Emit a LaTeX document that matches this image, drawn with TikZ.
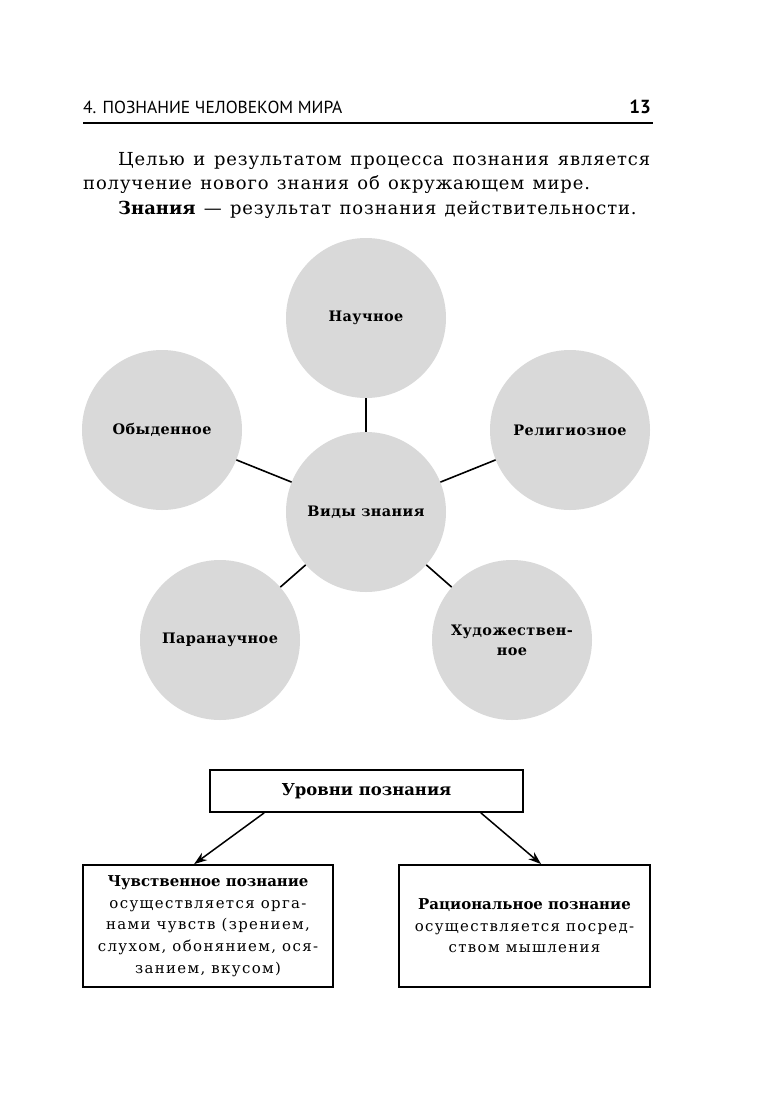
\documentclass[tikz,border=0pt]{standalone}
\usepackage{fontspec}
\setmainfont{DejaVu Serif}
\newfontfamily\hdrfont{PT Sans}
\newfontfamily\bodyfont{DejaVu Serif}[LetterSpace=5]
\newfontfamily\boxfont{DejaVu Serif}[LetterSpace=9]
\newfontfamily\kindfont{DejaVu Serif}[LetterSpace=3]
\newcommand\widewords{\spaceskip=8.3bp\relax}
\usetikzlibrary{positioning,arrows.meta}
\definecolor{circgray}{RGB}{217,217,217}

\begin{document}
\begin{tikzpicture}[
  x=1bp, y=-1bp,
  % ── page header ──────────────────────────────────────────
  hdr/.style={font=\hdrfont\fontsize{17.5}{20}\selectfont, inner sep=0pt},
  % ── body text ────────────────────────────────────────────
  body/.style={font=\bodyfont\fontsize{18}{24}\selectfont, inner sep=0pt},
  % ── kinds of knowledge (grey discs) ──────────────────────
  kind/.style={
    circle, fill=circgray, minimum size=160bp, inner sep=0pt,
    align=center, font=\kindfont\fontsize{14.5}{20}\selectfont\bfseries
  },
  spoke/.style={line width=1.6bp},
  % ── levels of cognition (framed boxes) ───────────────────
  lvl/.style={
    rectangle, draw, line width=1.8bp, inner sep=0pt,
    align=center, font=\boxfont\fontsize{15}{21.7}\selectfont
  },
  arr/.style={line width=1.5bp, -{Stealth[length=13bp,width=9bp]}},
]
\useasboundingbox (0,0) rectangle (768,1104);
\fill[white] (0,0) rectangle (768,1104);

%% ── HEADER ───────────────────────────────────────────────────
\node[hdr, anchor=base west] (HDR) at (83,113) {4. ПОЗНАНИЕ ЧЕЛОВЕКОМ МИРА};
\node[hdr, anchor=base east, font=\hdrfont\fontsize{19}{20}\selectfont\bfseries]
  (PG) at (651,113) {13};
\coordinate (RL) at (83,123);
\coordinate (RR) at (653,123);
\draw[line width=2bp] (RL)--(RR);

%% ── INTRO TEXT ───────────────────────────────────────────────
\node[body, anchor=base west] (L1) at (118,165)
  {\makebox[532bp][s]{Целью и результатом процесса познания является}};
\node[body, anchor=base west] (L2) at (83,189)
  {\widewords получение нового знания об окружающем мире.};
\node[body, anchor=base west] (L3) at (118,214)
  {\widewords{\rmfamily\bfseries Знания} — результат познания действительности.};

%% ── KINDS OF KNOWLEDGE ───────────────────────────────────────
\node[kind] (VZ) at (366,512) {Виды знания};
\node[kind] (K1) at (366,318) {Научное};
\node[kind] (K2) at (162,430) {Обыденное};
\node[kind] (K3) at (570,430) {Религиозное};
\node[kind] (K4) at (220,640) {Паранаучное};
\node[kind] (K5) at (512,640) {Художествен-\\ное};

\foreach \k in {K1,K2,K3,K4,K5}
  \draw[spoke] (VZ)--(\k);

%% ── LEVELS OF COGNITION ──────────────────────────────────────
\node[lvl, minimum width=313bp, minimum height=42bp,
      font=\rmfamily\fontsize{16.5}{20}\selectfont\bfseries] (LVL) at (366.5,791)
  {Уровни познания};
\node[lvl, minimum width=250bp, minimum height=122bp] (SENS) at (208,926)
  {{\rmfamily\bfseries Чувственное познание}\\осуществляется орга-\\нами чувств (зрением,\\
   слухом, обонянием, ося-\\занием, вкусом)};
\node[lvl, minimum width=251bp, minimum height=122bp] (RAT) at (524.5,926)
  {{\rmfamily\bfseries Рациональное познание}\\осуществляется посред-\\ством мышления};

\draw[arr] ([xshift=55bp]LVL.south west) -- ([xshift=112bp]SENS.north west);
\draw[arr] ([xshift=-43bp]LVL.south east) -- ([xshift=143bp]RAT.north west);

\end{tikzpicture}
\end{document}
